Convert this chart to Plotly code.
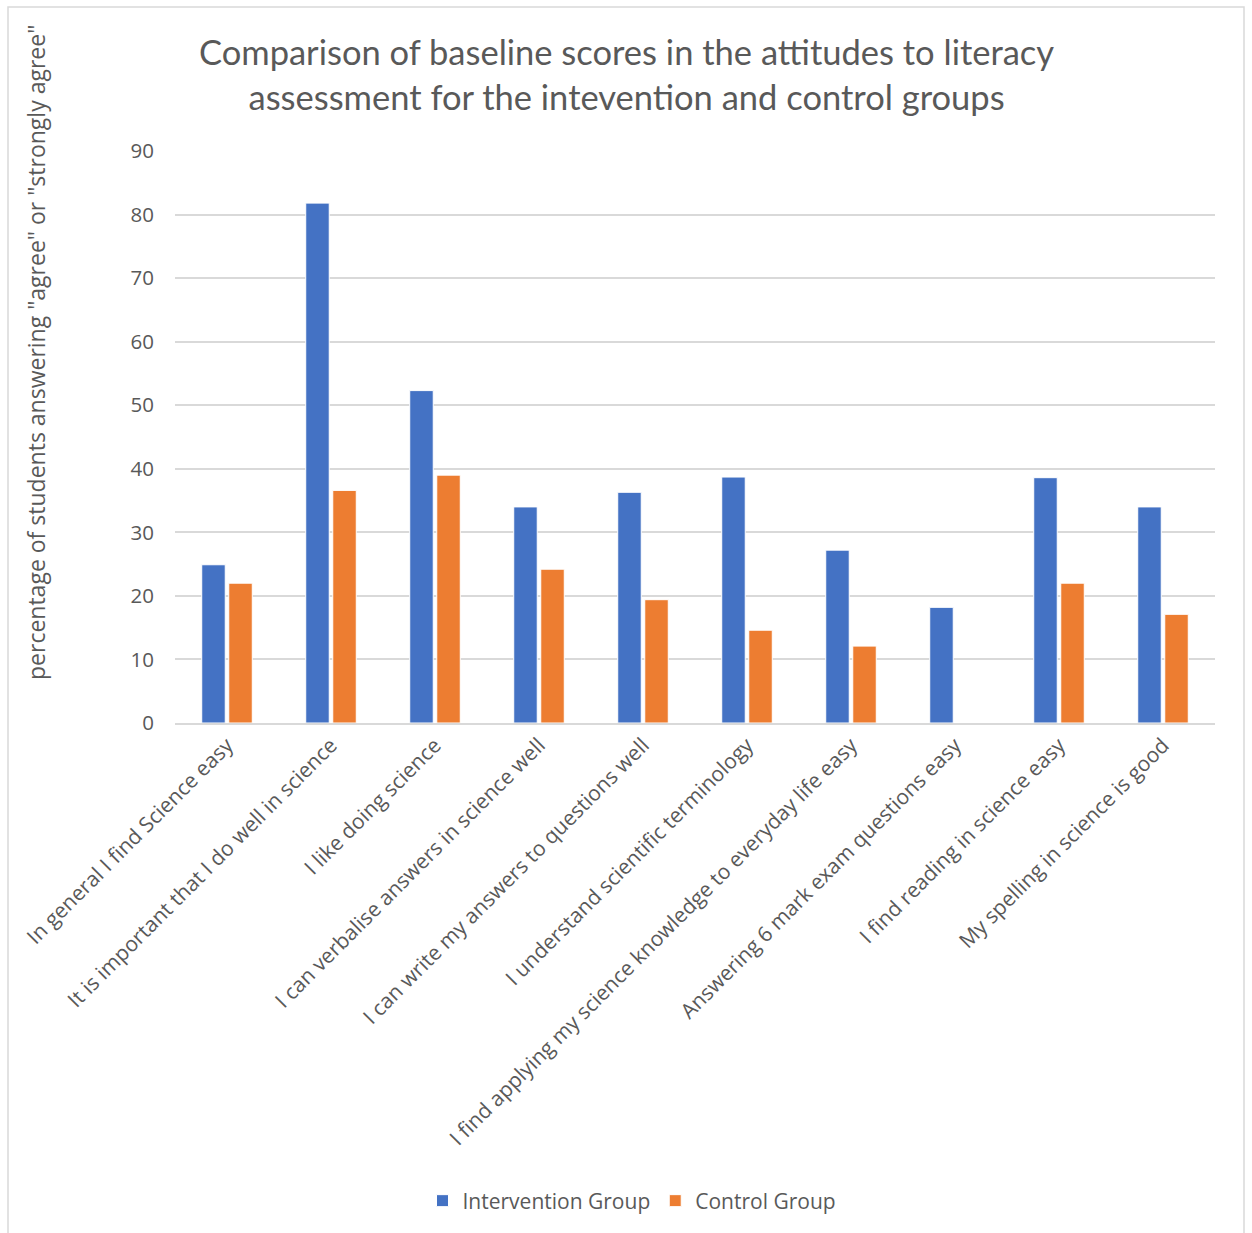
import plotly.graph_objects as go

categories = [
    "In general I find Science easy",
    "It is important that I do well in science",
    "I like doing science",
    "I can verbalise answers in science well",
    "I can write my answers to questions well",
    "I understand scientific terminology",
    "I find applying my science knowledge to everyday life easy",
    "Answering 6 mark exam questions easy",
    "I find reading in science easy",
    "My spelling in science is good",
]
intervention = [24.9, 81.8, 52.3, 34.0, 36.3, 38.7, 27.2, 18.2, 38.6, 34.0]
control = [22.0, 36.6, 39.0, 24.2, 19.4, 14.6, 12.1, 0.0, 22.0, 17.1]
y_ticks = [0, 10, 20, 30, 40, 50, 60, 70, 80, 90]

W, H = 1252, 1233
L, R, T, B = 175, 1215, 151, 723

fig = go.Figure()
fig.add_trace(go.Bar(name="Intervention Group", x=categories, y=intervention,
                     marker=dict(color="#4472C4", line=dict(color="white", width=1))))
fig.add_trace(go.Bar(name="Control Group", x=categories, y=control,
                     marker=dict(color="#ED7D31", line=dict(color="white", width=1))))

font_family = "Open Sans"

def px_x(p):
    return (p - L) / (R - L)

def px_y(p):
    return (B - p) / (B - T)

fig.update_layout(
    width=W, height=H,
    margin=dict(l=L, r=W - R, t=T, b=H - B, autoexpand=False),
    paper_bgcolor="white", plot_bgcolor="white",
    barmode="group", bargap=0.48, bargroupgap=0.13,
    font=dict(family=font_family, color="#595959"),
    showlegend=True,
    legend=dict(orientation="h", x=px_x(632), xanchor="center", y=px_y(1201), yanchor="middle",
                font=dict(size=21, color="#595959"), itemwidth=30, traceorder="normal"),
    xaxis=dict(tickangle=-45, tickfont=dict(size=21, color="#595959"),
               showgrid=False, showline=True, linecolor="#d9d9d9", linewidth=1.5,
               ticks="", fixedrange=True),
    yaxis=dict(range=[0, 90], tickvals=y_ticks, tickfont=dict(size=20.5, color="#595959"),
               showgrid=True, gridcolor="#d9d9d9", gridwidth=1.5, zeroline=False,
               showline=False, ticks="", ticklabelstandoff=20),
)

fig.add_annotation(
    text="Comparison of baseline scores in the attitudes to literacy<br>assessment for the intevention and control groups",
    xref="paper", yref="paper", x=px_x(626), y=px_y(74), xanchor="center", yanchor="middle",
    showarrow=False, font=dict(family="Lato", size=34.5, color="#595959"),
)
fig.add_annotation(
    text='percentage of students answering "agree" or "strongly agree"',
    xref="paper", yref="paper", x=px_x(36), y=px_y(353), xanchor="center", yanchor="middle",
    textangle=-90, showarrow=False, font=dict(family=font_family, size=23, color="#595959"),
)
fig.add_shape(type="rect", xref="paper", yref="paper",
              x0=px_x(8), x1=px_x(1244), y0=px_y(1245), y1=px_y(7),
              line=dict(color="#d9d9d9", width=1.5), fillcolor="rgba(0,0,0,0)", layer="below")

fig.write_html("out.html")
